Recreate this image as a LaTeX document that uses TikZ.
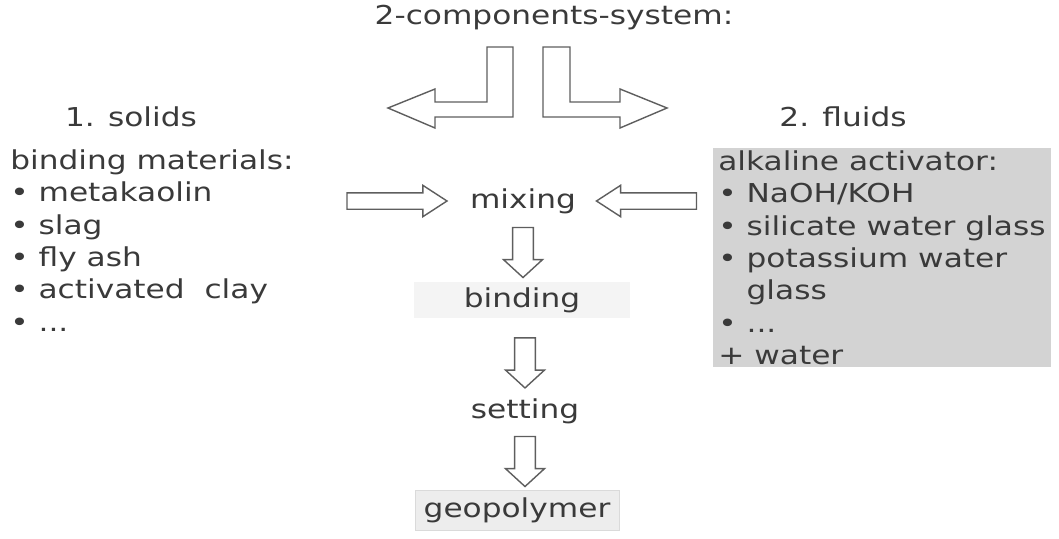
\documentclass[tikz,border=0pt]{standalone}
\usepackage{fontspec}
\setmainfont{DejaVu Sans}[FakeStretch=1.2]
\usetikzlibrary{positioning, shapes.arrows}
\definecolor{txt}{HTML}{3A3A3A}
\definecolor{edge}{HTML}{5E5E5E}
\definecolor{fluidbg}{HTML}{D3D3D3}
\definecolor{bindbg}{HTML}{F4F4F4}
\definecolor{geobg}{HTML}{EDEDED}
\definecolor{geoedge}{HTML}{DADADA}
\tikzset{
  lbl/.style={text=txt, font=\fontsize{18.5}{23.1}\selectfont, inner sep=0pt},
  list/.style={lbl, align=left, anchor=north west},
  blk/.style={draw=edge, line width=1pt, fill=white, line join=miter},
  hblk/.style={blk, single arrow, sloped, allow upside down, inner xsep=0pt, inner ysep=0.1875cm,
    minimum width=0pt, minimum height=2.5cm, single arrow head extend=0.1875cm, single arrow tip angle=66},
  vblk/.style={blk, single arrow, sloped, allow upside down, inner xsep=0pt, inner ysep=0.24cm,
    minimum width=0pt, minimum height=1.25cm, single arrow head extend=0.23cm, single arrow tip angle=95}
}
\begin{document}
\begin{tikzpicture}[x=0.025cm, y=-0.025cm]
\useasboundingbox (0,0) rectangle (1059,539);
% headings
\node[lbl] at (554,18) (sys) {2-components-system:};
\node[lbl] at (131,117) (solhead) {1. solids};
\node[lbl] at (843,117) (fluhead) {2. fluids};
% the two components
\node[list] at (10,149) (sol) {binding materials:\\• metakaolin\\• slag\\• fly ash\\• activated\ \ clay\\• ...};
\node[list, fill=fluidbg, inner xsep=0.125cm, inner ysep=0.05cm] at (713,148) (flu)
  {alkaline activator:\\• NaOH/KOH\\• silicate water glass\\• potassium water\\\phantom{• }glass\\• ...\\+ water};
% process steps
\node[lbl] at (523,201) (mix) {mixing};
\node[lbl, fill=bindbg, minimum width=5.375cm, minimum height=0.9cm] at (522,300) (bind) {binding};
\node[lbl] at (525,411) (set) {setting};
\node[lbl, fill=geobg, draw=geoedge, minimum width=5.1cm, minimum height=1cm] at (517,510) (geo) {geopolymer};
% split arrows
\draw[blk] (513,47) -- (513,117) -- (435,117) -- (435,128) -- (388,108) -- (435,89) -- (435,102) -- (487,102) -- (487,47) -- cycle;
\draw[blk] (543,47) -- (570,47) -- (570,102) -- (620,102) -- (620,89) -- (667,108) -- (620,128) -- (620,117) -- (543,117) -- cycle;
% block arrows
\path (sol.east |- mix) -- node[hblk, pos=0.55] {} (mix.west);
\path (flu.west |- mix) -- node[hblk, pos=0.44] {} (mix.east);
\path (mix.south) -- node[vblk] {} (mix.south |- bind.north);
\path (bind.south -| set) -- node[vblk] {} (set.north);
\path (set.south) -- node[vblk] {} (set.south |- geo.north);
\end{tikzpicture}
\end{document}
